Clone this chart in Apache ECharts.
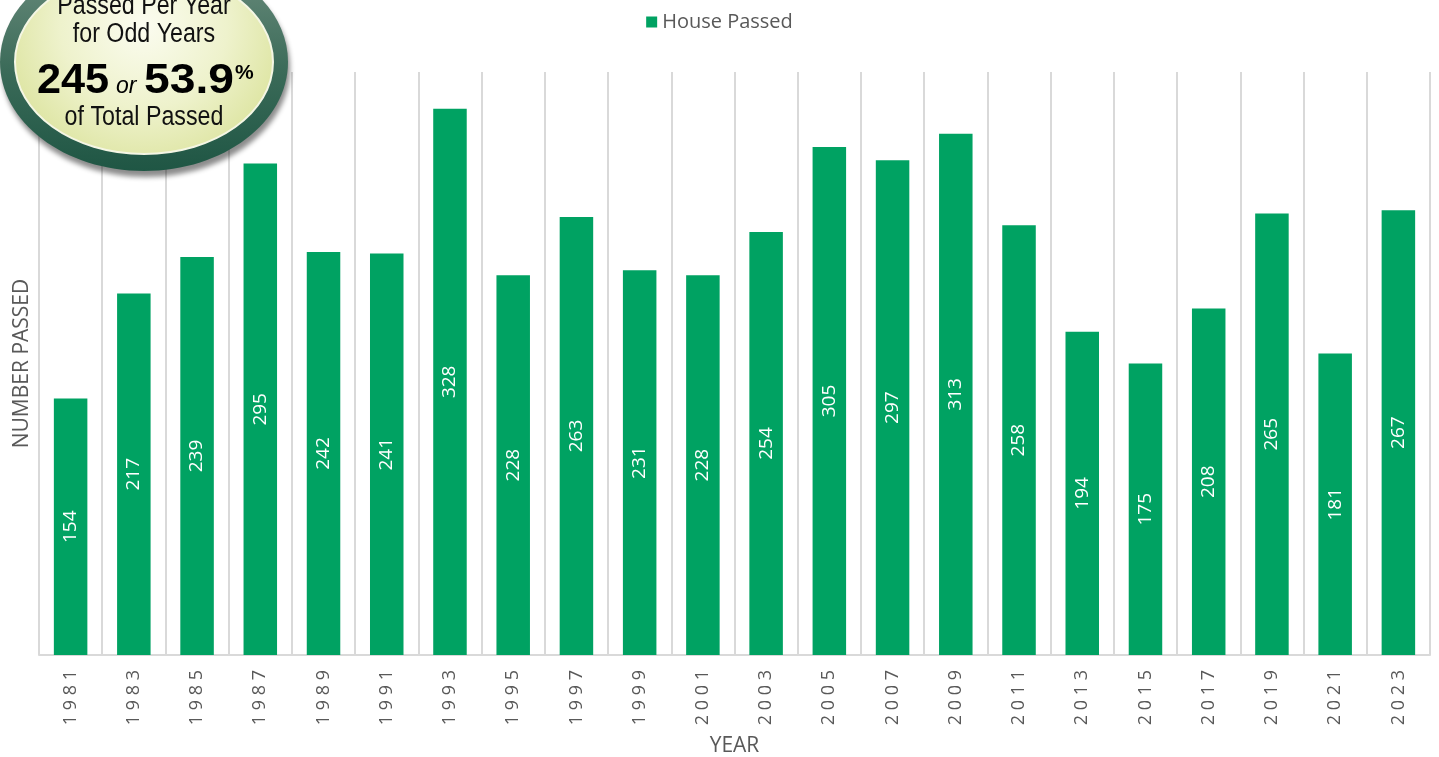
<!DOCTYPE html>
<html>
<head>
<meta charset="utf-8">
<title>House Passed</title>
<script src="https://cdn.jsdelivr.net/npm/echarts@6/dist/echarts.min.js"></script>
<style>
  html, body { margin: 0; padding: 0; background: #fff; }
  #chart { width: 1439px; height: 757px; }
</style>
</head>
<body>
<div id="chart"></div>
<script>
  // odd years only
  var years = ['1981', '1983', '1985', '1987', '1989', '1991', '1993', '1995', '1997', '1999', '2001',
    '2003', '2005', '2007', '2009', '2011', '2013', '2015', '2017', '2019', '2021', '2023']
  var housePassed = [154, 217, 239, 295, 242, 241, 328, 228, 263, 231, 228,
    254, 305, 297, 313, 258, 194, 175, 208, 265, 181, 267]

  var grey = '#595959'
  var font = 'Open Sans'
  var badgeFont = 'Liberation Sans'

  function badgeText (text, x, y, f, opts) {
    var el = {
      type: 'text',
      z: 110,
      x: x,
      y: y,
      style: { text: text, x: 0, y: 0, align: 'left', verticalAlign: 'middle', fill: '#000', font: f }
    }
    return Object.assign(el, opts || {})
  }

  var myChart = echarts.init(document.getElementById('chart'))

  myChart.setOption({
    animation: false,
    legend: {
      top: 7,
      left: 'center',
      icon: 'rect',
      itemWidth: 11,
      itemHeight: 11,
      data: ['House Passed'],
      textStyle: { color: grey, fontSize: 20, fontFamily: font }
    },
    grid: {
      left: 39,
      right: 9,
      top: 72,
      bottom: 102,
      outerBoundsMode: 'none'
    },
    xAxis: {
      type: 'category',
      data: years,
      name: 'YEAR',
      nameLocation: 'middle',
      nameGap: 81,
      nameTextStyle: { color: grey, fontSize: 21, fontFamily: font },
      axisLine: { lineStyle: { color: '#d9d9d9', width: 2 } },
      axisTick: { show: false },
      splitLine: { show: true, lineStyle: { color: '#d9d9d9', width: 2 } },
      axisLabel: {
        rotate: 90,
        margin: 15,
        color: grey,
        fontSize: 18,
        fontFamily: font,
        formatter: function (v) { return v.split('').join(' ') }
      }
    },
    yAxis: {
      type: 'value',
      min: 0,
      max: 350,
      name: 'NUMBER PASSED',
      nameLocation: 'middle',
      nameGap: 6,
      nameTextStyle: { color: grey, fontSize: 21, fontFamily: font },
      axisLine: { show: false },
      axisTick: { show: false },
      axisLabel: { show: false },
      splitLine: { show: false }
    },
    series: [{
      name: 'House Passed',
      type: 'bar',
      data: housePassed,
      barWidth: '53%',
      itemStyle: { color: '#00a262' },
      label: {
        show: true,
        position: 'inside',
        rotate: 90,
        color: '#fff',
        fontSize: 19,
        fontFamily: font
      }
    }],
    graphic: [
      {
        type: 'ellipse',
        z: 100,
        shape: { cx: 144, cy: 62, rx: 144, ry: 109 },
        style: {
          fill: new echarts.graphic.LinearGradient(0, 0, 0, 1, [
            { offset: 0, color: '#6f8f80' },
            { offset: 0.55, color: '#3a6a58' },
            { offset: 1, color: '#1f5644' }
          ]),
          shadowColor: 'rgba(0,0,0,0.45)',
          shadowBlur: 5,
          shadowOffsetX: 2,
          shadowOffsetY: 6
        }
      },
      {
        type: 'ellipse',
        z: 101,
        shape: { cx: 144, cy: 62, rx: 129, ry: 92 },
        style: {
          fill: new echarts.graphic.RadialGradient(0.5, 0.3, 0.75, [
            { offset: 0, color: '#fbfcf0' },
            { offset: 0.6, color: '#eef2cc' },
            { offset: 1, color: '#dfe6a6' }
          ]),
          stroke: '#f4f6e4',
          lineWidth: 2
        }
      },
      {
        type: 'group',
        z: 110,
        x: 144,
        scaleX: 0.86,
        children: [
          { type: 'text', z: 110, style: { text: 'Passed Per Year', x: 0, y: 7, align: 'center', verticalAlign: 'middle', fill: '#111', font: '27px "' + badgeFont + '"' } },
          { type: 'text', z: 110, style: { text: 'for Odd Years', x: 0, y: 35, align: 'center', verticalAlign: 'middle', fill: '#111', font: '27px "' + badgeFont + '"' } },
          { type: 'text', z: 110, style: { text: 'of Total Passed', x: 0, y: 118, align: 'center', verticalAlign: 'middle', fill: '#111', font: '27px "' + badgeFont + '"' } }
        ]
      },
      badgeText('245', 37, 81, 'bold 42px "' + badgeFont + '"', { scaleX: 1.03 }),
      badgeText('or', 116, 87, 'italic 23px "' + badgeFont + '"'),
      badgeText('53.9', 144, 81, 'bold 42px "' + badgeFont + '"', { scaleX: 1.1 }),
      badgeText('%', 235, 73, 'bold 21px "' + badgeFont + '"')
    ]
  })
</script>
</body>
</html>
